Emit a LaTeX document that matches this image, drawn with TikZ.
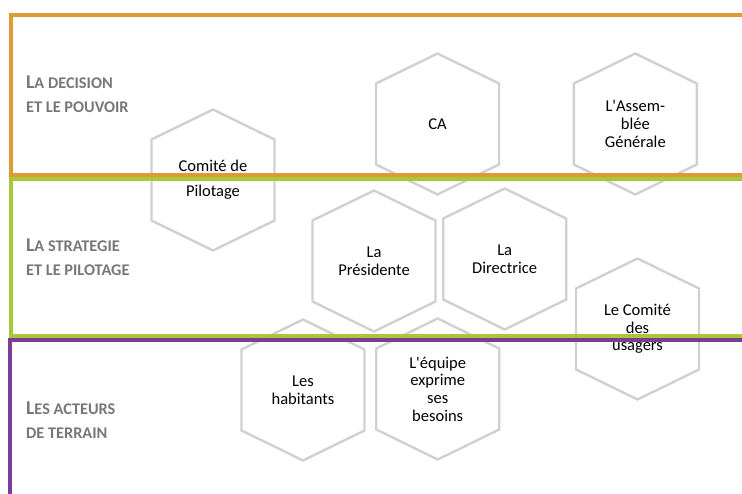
\documentclass[tikz,border=0pt]{standalone}
\usepackage{fontspec}
\setmainfont{Carlito}[Ligatures=TeXOff]
\definecolor{bandorange}{HTML}{DE9B35}
\definecolor{bandgreen}{HTML}{A8C83C}
\definecolor{bandpurple}{HTML}{7D3A96}
\definecolor{hexgray}{HTML}{D0D0D0}
\definecolor{labelgray}{HTML}{777777}
% large initial of a small-caps heading
\newcommand\initialcap[1]{{\fontsize{19.5}{19.5}\selectfont #1}}
% outline of a hexagon around a named node
\newcommand\hexoutline[1]{%
  \draw[hexline] (#1.center) ++(0,-70.5) -- ++(61.5,30) -- ++(0,81)
    -- ++(-61.5,30) -- ++(-61.5,-30) -- ++(0,-81) -- cycle;}
\tikzset{
  hexline/.style={draw=hexgray, line width=2.4pt, line join=miter},
  hextext/.style={align=center, inner sep=0pt, text=black,
    font=\fontsize{16.5}{17.7}\selectfont},
  lbl/.style={anchor=base west, inner sep=0pt, text=labelgray,
    font=\bfseries\fontsize{16.3}{16.3}\selectfont},
  band/.style={line width=4pt}
}
\begin{document}
\begin{tikzpicture}[x=1pt,y=-1pt]
\useasboundingbox (0,0) rectangle (742,494);

% hexagons and their texts
\node[hextext] (copil) at (213,180) {Comité de\\[7pt]Pilotage};
\node[hextext] (ca) at (437.5,124) {CA};
\node[hextext] (ag) at (635.3,124) {L'Assem-\\blée\\Générale};
\node[hextext] (pres) at (374,261) {La\\Présidente};
\node[hextext] (dir) at (504.7,259) {La\\Directrice};
\node[hextext] (usag) at (637.5,329) {Le Comité\\des\\usagers};
\node[hextext] (hab) at (303,390) {Les\\habitants};
\node[hextext] (equipe) at (437.7,389) {L'équipe\\exprime\\ses\\besoins};
\foreach \h in {copil,ca,ag,pres,dir,usag,hab,equipe}{\hexoutline{\h}}

% band headings
\node[lbl] (dec1) at (26,89) {\initialcap{L}A DECISION};
\node[lbl] (dec2) at (26,113) {ET LE POUVOIR};
\node[lbl] (str1) at (26,251.5) {\initialcap{L}A STRATEGIE};
\node[lbl] (str2) at (26,276) {ET LE PILOTAGE};
\node[lbl] (act1) at (26,414.5) {\initialcap{L}ES ACTEURS};
\node[lbl] (act2) at (26,438.5) {DE TERRAIN};

% coloured bands, drawn over the hexagons
\draw[band, bandorange] (11,15) rectangle (760,175);
\draw[band, bandgreen] (11,179) rectangle (760,336.5);
\draw[band, bandpurple] (10,340.5) rectangle (760,520);
\end{tikzpicture}
\end{document}
